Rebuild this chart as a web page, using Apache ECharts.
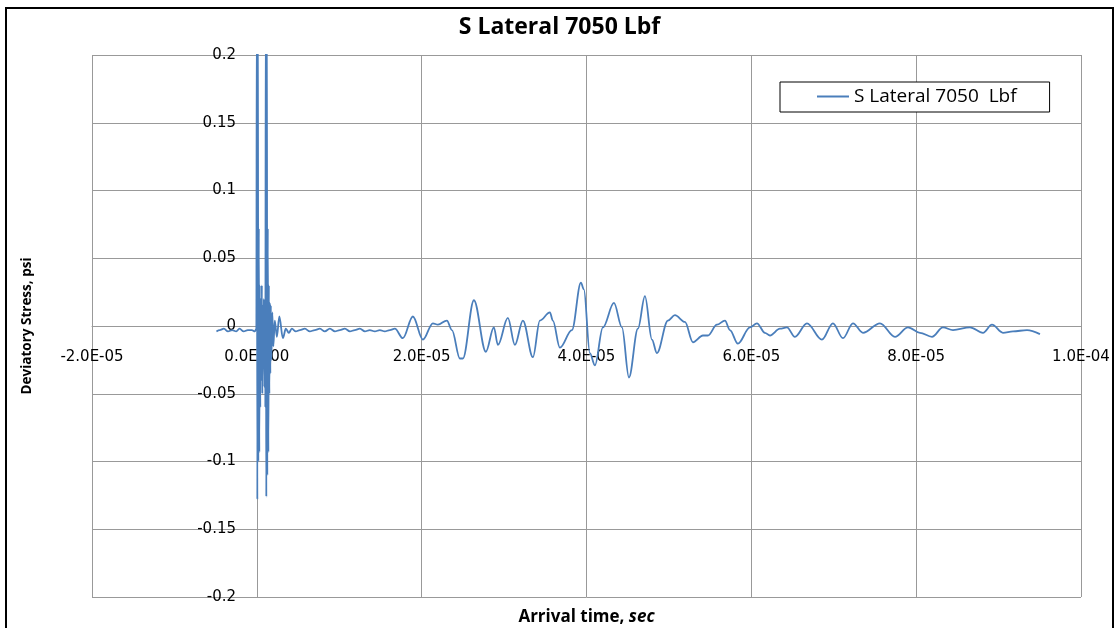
<!DOCTYPE html>
<html>
<head>
<meta charset="utf-8">
<script src="https://cdn.jsdelivr.net/npm/echarts@6/dist/echarts.min.js"></script>
<style>html,body{margin:0;padding:0;background:#fff}#c{width:1119px;height:628px}</style>
</head>
<body>
<div id="c"></div>
<script>
// Arrival time in microseconds
const timeUs = [
-4.9,-4.5,-4.0,-3.5,-3.0,-2.5,-2.1,-1.6,-1.1,-0.6,-0.24,-0.06,
0.0,0.06,0.12,0.18,0.24,0.30,0.36,0.42,0.49,0.55,0.61,0.67,0.73,0.79,0.85,0.91,0.97,1.03,
1.09,1.15,1.21,1.27,1.33,1.40,1.46,1.52,1.58,1.64,1.70,1.76,1.88,2.00,2.18,2.43,2.73,3.16,
3.52,3.88,4.25,4.73,5.22,5.83,6.43,7.04,7.65,8.25,8.86,9.47,10.07,10.68,11.29,11.89,12.50,
13.11,13.71,14.32,14.93,15.53,16.14,16.75,17.72,18.93,20.15,21.36,21.97,23.06,23.67,24.64,
25.00,26.34,27.79,28.76,29.25,30.46,31.31,32.28,33.50,34.34,35.56,35.92,36.77,38.23,39.32,
39.68,40.41,41.02,41.99,43.33,44.30,45.15,46.24,47.09,47.94,48.54,49.88,50.73,51.94,52.91,
54.13,54.73,55.83,56.80,57.40,58.37,59.83,60.68,61.65,62.26,63.47,64.32,65.29,66.75,68.57,
69.90,71.12,72.33,73.55,75.61,77.43,79.01,80.46,81.92,83.25,84.47,86.53,88.11,89.20,90.53,
91.75,93.45,95.02
];
// Deviatory stress, psi
const stress = [
-0.004,-0.003,-0.002,-0.004,-0.003,-0.004,-0.002,-0.004,-0.003,-0.003,-0.004,-0.002,
0.24,-0.128,0.26,-0.10,0.072,-0.093,0.03,-0.06,0.02,-0.04,0.03,-0.05,0.015,-0.03,0.02,-0.045,0.015,-0.06,
0.25,-0.126,0.26,-0.11,0.072,-0.093,0.03,-0.05,0.017,-0.035,0.015,-0.025,0.01,-0.015,0.004,-0.008,0.007,-0.009,
-0.002,-0.005,-0.002,-0.004,-0.003,-0.002,-0.004,-0.003,-0.002,-0.004,-0.002,-0.004,-0.003,-0.002,-0.004,-0.003,-0.002,
-0.004,-0.003,-0.004,-0.003,-0.004,-0.003,-0.002,-0.009,0.007,-0.010,0.002,0.001,0.004,-0.003,-0.024,
-0.024,0.019,-0.019,-0.001,-0.014,0.006,-0.014,0.004,-0.023,0.004,0.010,0.004,-0.016,-0.003,0.032,
0.027,-0.020,-0.029,-0.001,0.017,-0.001,-0.038,-0.002,0.022,-0.010,-0.020,0.004,0.008,0.003,-0.012,
-0.007,-0.007,0.001,0.004,-0.003,-0.013,-0.001,0.002,-0.005,-0.007,-0.002,-0.001,-0.008,0.002,-0.010,
0.002,-0.009,0.002,-0.005,0.002,-0.008,-0.001,-0.005,-0.008,-0.001,-0.003,-0.001,-0.005,0.001,-0.005,
-0.004,-0.003,-0.006
];
const seriesName = 'S Lateral 7050  Lbf';
const titleText = 'S Lateral 7050 Lbf';

const data = timeUs.map((t, i) => [t * 1e-6, stress[i]]);

function expFmt(v) {
  let s = Number(v).toExponential(1).toUpperCase();
  return s.replace(/E([+-])(\d)$/, 'E$10$2');
}

const G = {left: 92, right: 38, top: 55, bottom: 31};

const chart = echarts.init(document.getElementById('c'), null, {renderer: 'canvas'});
chart.setOption({
  animation: false,
  backgroundColor: '#fff',
  title: {
    text: titleText, left: 'center', top: 11,
    textStyle: {fontFamily: 'Open Sans', fontWeight: 'bold', fontSize: 23, color: '#000'}
  },
  legend: {
    left: 780, top: 82,
    padding: [5, 33, 6, 36],
    backgroundColor: '#fff', borderColor: '#000', borderWidth: 1,
    itemWidth: 32, itemHeight: 14, itemGap: 5,
    itemStyle: {opacity: 0},
    textStyle: {fontFamily: 'Open Sans', fontSize: 19, color: '#000'},
    data: [seriesName]
  },
  grid: {left: G.left, right: G.right, top: G.top, bottom: G.bottom, containLabel: false, outerBoundsMode: 'none'},
  xAxis: {
    type: 'value', min: -2e-5, max: 1e-4, interval: 2e-5,
    position: 'bottom', offset: -271,
    name: 'Arrival time, {i|sec}', nameLocation: 'middle', nameGap: 283,
    nameTextStyle: {fontFamily: 'Open Sans', fontWeight: 'bold', fontSize: 17, color: '#000',
      rich: {i: {fontFamily: 'Open Sans', fontWeight: 'bold', fontStyle: 'italic', fontSize: 17, color: '#000'}}},
    axisLine: {onZero: false, lineStyle: {color: '#999', width: 1}},
    axisTick: {show: false},
    axisLabel: {formatter: expFmt, margin: 24, fontFamily: 'DejaVu Sans', fontSize: 15, color: '#000'},
    splitLine: {show: true, lineStyle: {color: '#999', width: 1}}
  },
  yAxis: {
    type: 'value', min: -0.2, max: 0.2, interval: 0.05,
    position: 'left', offset: -165,
    name: 'Deviatory Stress, psi', nameLocation: 'middle', nameGap: 223, nameRotate: 90,
    nameTextStyle: {fontFamily: 'Open Sans', fontWeight: 'bold', fontSize: 13.5, color: '#000'},
    axisLine: {onZero: false, lineStyle: {color: '#999', width: 1}},
    axisTick: {show: false},
    axisLabel: {margin: 21, fontFamily: 'DejaVu Sans', fontSize: 15, color: '#000',
      formatter: v => String(Math.round(v * 100) / 100)},
    splitLine: {show: true, lineStyle: {color: '#999', width: 1}}
  },
  graphic: [{
    type: 'rect', z: 100, silent: true,
    shape: {x: 6, y: 8, width: 1107, height: 640},
    style: {fill: 'none', stroke: '#000', lineWidth: 2}
  }],
  series: [{
    name: seriesName, type: 'line', data: data,
    symbol: 'none', smooth: 0.35, smoothMonotone: 'x', clip: true,
    lineStyle: {color: '#4a7ebb', width: 1.8},
    itemStyle: {color: '#4a7ebb'}
  }]
});
</script>
</body>
</html>
